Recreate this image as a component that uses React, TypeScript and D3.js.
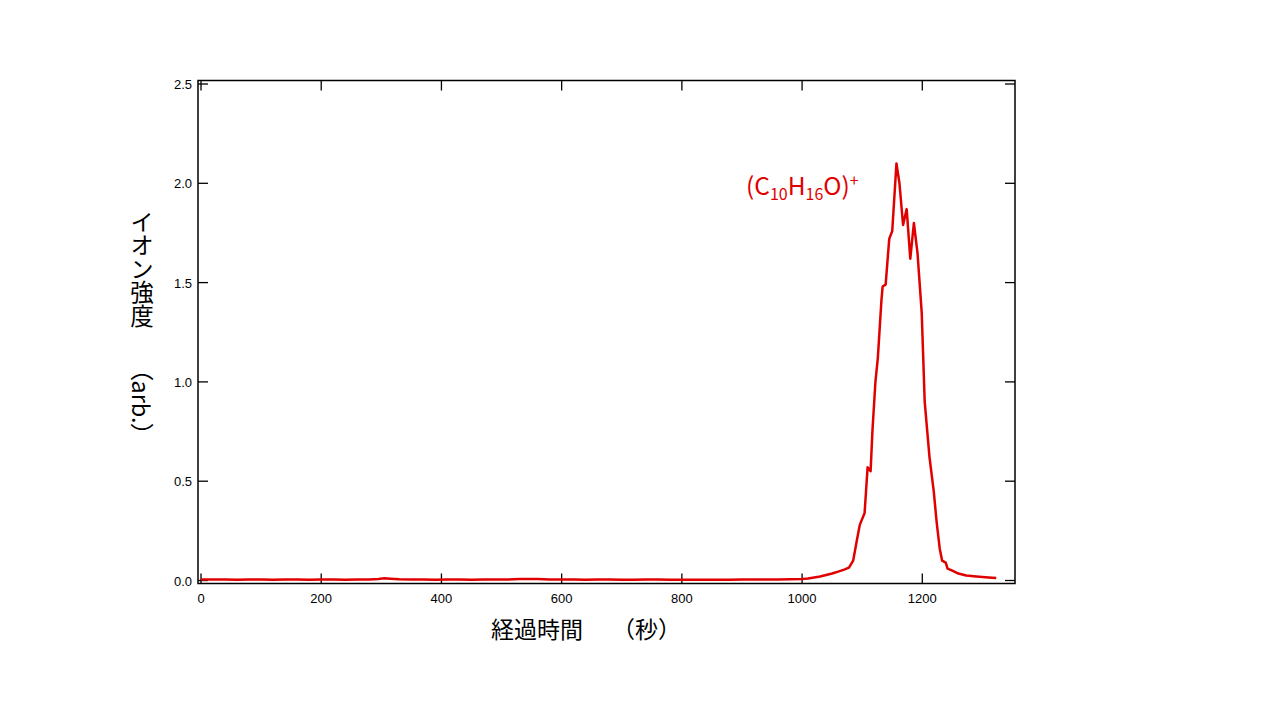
import React from "react";
import * as d3 from "d3";

const times: number[] = [
  0, 20, 40, 60, 80, 100, 120, 140, 160, 180, 200, 220, 240, 260, 280, 295, 305, 315, 330, 350,
  370, 390, 410, 430, 450, 470, 490, 510, 530, 545, 560, 580, 600, 620, 640, 660, 680, 700, 720,
  740, 760, 780, 800, 820, 840, 860, 880, 900, 920, 940, 960, 980,
  1000, 1010, 1020, 1030, 1040, 1050, 1060, 1070, 1078, 1085, 1091, 1096, 1104, 1109, 1114, 1117,
  1122, 1126, 1132, 1134, 1139, 1145, 1150, 1157, 1162, 1168, 1174, 1180, 1186, 1192, 1199, 1204,
  1212, 1219, 1224, 1229, 1233, 1239, 1242, 1250, 1260, 1273, 1290, 1310, 1323,
];

const intensity: number[] = [
  0.005, 0.005, 0.005, 0.004, 0.005, 0.005, 0.004, 0.005, 0.005, 0.004, 0.005, 0.005, 0.004, 0.005, 0.005, 0.008, 0.011, 0.009, 0.006, 0.005,
  0.005, 0.004, 0.005, 0.005, 0.004, 0.005, 0.005, 0.005, 0.007, 0.008, 0.007, 0.005, 0.005, 0.005, 0.004, 0.005, 0.005, 0.004, 0.004,
  0.005, 0.005, 0.004, 0.004, 0.004, 0.004, 0.004, 0.004, 0.005, 0.005, 0.005, 0.005, 0.006,
  0.008, 0.01, 0.015, 0.02, 0.028, 0.035, 0.045, 0.055, 0.065, 0.1, 0.2, 0.28, 0.34, 0.57, 0.55, 0.75,
  1.0, 1.12, 1.41, 1.48, 1.49, 1.72, 1.76, 2.1, 2.0, 1.79, 1.87, 1.62, 1.8, 1.65, 1.35, 0.9,
  0.62, 0.45, 0.29, 0.16, 0.1, 0.09, 0.06, 0.05, 0.035, 0.025, 0.02, 0.015, 0.012,
];

const xTicks: number[] = [0, 200, 400, 600, 800, 1000, 1200];
const yTicks: number[] = [0, 0.5, 1.0, 1.5, 2.0, 2.5];

const xLabelMain = "経過時間";
const xLabelUnit = "（秒）";
const yLabelMain = "イオン強度";
const yLabelUnit = "（arb.）";

export default function App() {
  const left = 198, right = 1015, top = 80.5, bottom = 583.5;
  const x = d3.scaleLinear().domain([0, 1200]).range([201, 922.3]);
  const y = d3.scaleLinear().domain([0, 2.5]).range([580.5, 84]);
  const pts: [number, number][] = times.map((t, i) => [t, intensity[i]]);
  const line = d3
    .line<[number, number]>()
    .x((d) => x(d[0]))
    .y((d) => y(d[1]));
  const tickLen = 10;
  const tickFont = "'Liberation Sans', Arial, sans-serif";
  const jpFont = "'Noto Sans CJK JP', sans-serif";
  const vert = { writingMode: "vertical-rl" } as React.CSSProperties;
  return (
    <svg width={1280} height={720} style={{ position: "absolute", left: 0, top: 0, background: "#fff" }}>
      <rect x={0} y={0} width={1280} height={720} fill="#fff" />
      <rect x={left} y={top} width={right - left} height={bottom - top} fill="none" stroke="#000" strokeWidth={1.5} />
      {xTicks.map((t) => (
        <g key={"x" + t}>
          <line x1={x(t)} x2={x(t)} y1={bottom} y2={bottom - tickLen} stroke="#000" strokeWidth={1.3} />
          <line x1={x(t)} x2={x(t)} y1={top} y2={top + tickLen} stroke="#000" strokeWidth={1.3} />
          <text x={x(t)} y={603} textAnchor="middle" fontFamily={tickFont} fontSize={13} fill="#000">
            {t}
          </text>
        </g>
      ))}
      {yTicks.map((v) => (
        <g key={"y" + v}>
          <line x1={left} x2={left + tickLen} y1={y(v)} y2={y(v)} stroke="#000" strokeWidth={1.3} />
          <line x1={right} x2={right - tickLen} y1={y(v)} y2={y(v)} stroke="#000" strokeWidth={1.3} />
          <text x={192} y={y(v) + 5} textAnchor="end" fontFamily={tickFont} fontSize={13} fill="#000">
            {v.toFixed(1)}
          </text>
        </g>
      ))}
      <path d={line(pts) || ""} fill="none" stroke="#e00000" strokeWidth={2.5} strokeLinejoin="round" />
      <text x={746} y={195} fontFamily={jpFont} fontSize={24.5} fill="#e00000">
        (C<tspan fontSize={16} dy={5}>10</tspan>
        <tspan dy={-5}>H</tspan>
        <tspan fontSize={16} dy={5}>16</tspan>
        <tspan dy={-5}>O)</tspan>
        <tspan fontSize={16} dy={-9}>+</tspan>
      </text>
      <text x={491} y={638} fontFamily={jpFont} fontSize={23} fill="#000">
        {xLabelMain}
      </text>
      <text x={612} y={638} fontFamily={jpFont} fontSize={23} fill="#000">
        {xLabelUnit}
      </text>
      <text x={142} y={210} fontFamily={jpFont} fontSize={23.5} fill="#000" style={vert}>
        {yLabelMain}
      </text>
      <text x={142} y={357} fontFamily={jpFont} fontSize={23.5} fill="#000" style={vert}>
        {yLabelUnit}
      </text>
    </svg>
  );
}
